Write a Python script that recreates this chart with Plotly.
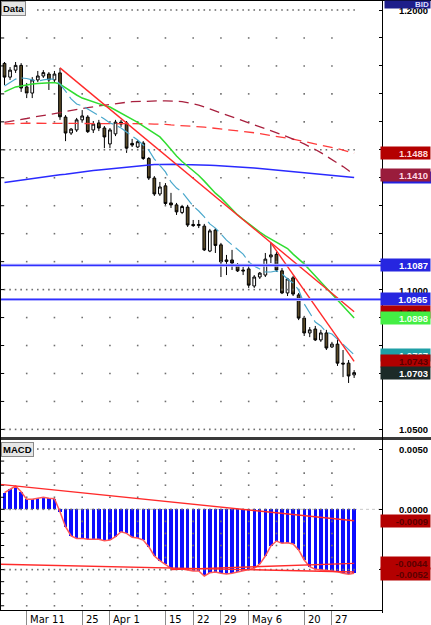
import plotly.graph_objects as go
import pandas as pd

# ---------------- data ----------------
dates = [d.strftime("%Y-%m-%d") for d in pd.bdate_range("2013-03-05", "2013-05-31")]
label_dates = ["2013-03-11", "2013-03-25", "2013-04-01", "2013-04-15", "2013-04-22",
               "2013-04-29", "2013-05-06", "2013-05-20", "2013-05-27"]
label_text = ["Mar 11", "25", "Apr 1", "15", "22", "29", "May 6", "20", "27"]

opens = [1.1809, 1.1760, 1.1785, 1.1802, 1.1725, 1.1703, 1.1750, 1.1764, 1.1771, 1.1750,
         1.1775, 1.1617, 1.1560, 1.1571, 1.1607, 1.1617, 1.1571, 1.1596, 1.1578, 1.1521,
         1.1557, 1.1599, 1.1596, 1.1523, 1.1510, 1.1524, 1.1469, 1.1399, 1.1342, 1.1371,
         1.1310, 1.1303, 1.1276, 1.1295, 1.1233, 1.1229, 1.1227, 1.1138, 1.1213, 1.1160,
         1.1106, 1.1106, 1.1088, 1.1070, 1.1074, 1.1013, 1.1045, 1.1052, 1.1117, 1.1126,
         1.1067, 1.0988, 1.1042, 1.0981, 1.0898, 1.0845, 1.0859, 1.0820, 1.0845, 1.0795,
         1.0805, 1.0737, 1.0737, 1.0695]
highs = [1.1814, 1.1796, 1.1814, 1.1810, 1.1739, 1.1760, 1.1782, 1.1785, 1.1778, 1.1782,
         1.1793, 1.1624, 1.1578, 1.1614, 1.1642, 1.1624, 1.1603, 1.1607, 1.1585, 1.1578,
         1.1607, 1.1607, 1.1603, 1.1539, 1.1535, 1.1531, 1.1474, 1.1406, 1.1385, 1.1381,
         1.1346, 1.1310, 1.1303, 1.1303, 1.1249, 1.1249, 1.1235, 1.1217, 1.1220, 1.1167,
         1.1124, 1.1142, 1.1095, 1.1081, 1.1084, 1.1052, 1.1063, 1.1131, 1.1167, 1.1134,
         1.1077, 1.1042, 1.1049, 1.0988, 1.0906, 1.0866, 1.0870, 1.0856, 1.0856, 1.0813,
         1.0830, 1.0784, 1.0748, 1.0712]
lows = [1.1732, 1.1750, 1.1775, 1.1707, 1.1685, 1.1685, 1.1742, 1.1757, 1.1714, 1.1739,
        1.1607, 1.1531, 1.1553, 1.1564, 1.1599, 1.1560, 1.1560, 1.1567, 1.1506, 1.1506,
        1.1549, 1.1582, 1.1489, 1.1510, 1.1506, 1.1464, 1.1392, 1.1335, 1.1335, 1.1299,
        1.1292, 1.1267, 1.1270, 1.1224, 1.1224, 1.1220, 1.1138, 1.1134, 1.1131, 1.1045,
        1.1052, 1.1070, 1.1063, 1.1052, 1.1006, 1.1006, 1.1038, 1.1045, 1.1095, 1.1063,
        1.0984, 1.0977, 1.0977, 1.0891, 1.0834, 1.0830, 1.0816, 1.0813, 1.0784, 1.0791,
        1.0727, 1.0687, 1.0666, 1.0684]
closes = [1.1760, 1.1785, 1.1802, 1.1721, 1.1703, 1.1750, 1.1764, 1.1776, 1.1750, 1.1771,
          1.1618, 1.1560, 1.1574, 1.1607, 1.1621, 1.1565, 1.1592, 1.1578, 1.1546, 1.1571,
          1.1599, 1.1592, 1.1506, 1.1517, 1.1529, 1.1469, 1.1399, 1.1342, 1.1367, 1.1308,
          1.1303, 1.1278, 1.1297, 1.1231, 1.1229, 1.1233, 1.1142, 1.1210, 1.1158, 1.1099,
          1.1101, 1.1095, 1.1067, 1.1067, 1.1016, 1.1045, 1.1059, 1.1109, 1.1124, 1.1070,
          1.0988, 1.1038, 1.0984, 1.0898, 1.0845, 1.0856, 1.0820, 1.0845, 1.0791, 1.0805,
          1.0737, 1.0734, 1.0691, 1.0703]

ma_green = [1.1707, 1.1716, 1.1725, 1.1728, 1.1732, 1.1735, 1.1737, 1.1739, 1.1741, 1.1741,
            1.1735, 1.1721, 1.1707, 1.1696, 1.1685, 1.1678, 1.1671, 1.1664, 1.1658, 1.1653,
            1.1642, 1.1632, 1.1619, 1.1607, 1.1598, 1.1585, 1.1571, 1.1557, 1.1546, 1.1524,
            1.1499, 1.1478, 1.1458, 1.1442, 1.1426, 1.1408, 1.1388, 1.1367, 1.1345, 1.1328,
            1.1308, 1.1288, 1.1267, 1.1251, 1.1235, 1.1220, 1.1206, 1.1192, 1.1181, 1.1170,
            1.1160, 1.1147, 1.1127, 1.1109, 1.1092, 1.1070, 1.1049, 1.1027, 1.1006, 1.0984,
            1.0963, 1.0941, 1.0920, 1.0898]
ma_blue = [1.1383, 1.1386, 1.1388, 1.1391, 1.1393, 1.1396, 1.1399, 1.1402, 1.1405, 1.1408,
           1.1411, 1.1413, 1.1416, 1.1418, 1.1421, 1.1424, 1.1426, 1.1428, 1.1430, 1.1433,
           1.1435, 1.1437, 1.1439, 1.1441, 1.1443, 1.1445, 1.1446, 1.1447, 1.1447, 1.1448,
           1.1448, 1.1448, 1.1447, 1.1447, 1.1447, 1.1446, 1.1445, 1.1445, 1.1444, 1.1443,
           1.1442, 1.1441, 1.1439, 1.1438, 1.1436, 1.1435, 1.1433, 1.1431, 1.1430, 1.1428,
           1.1426, 1.1424, 1.1422, 1.1421, 1.1419, 1.1417, 1.1415, 1.1412, 1.1410, 1.1408,
           1.1406, 1.1404, 1.1402, 1.1401]
ma_red_dash = [1.1593, 1.1594, 1.1594, 1.1594, 1.1595, 1.1595, 1.1595, 1.1595, 1.1595, 1.1595,
               1.1595, 1.1595, 1.1595, 1.1595, 1.1595, 1.1595, 1.1595, 1.1595, 1.1595, 1.1595,
               1.1595, 1.1595, 1.1594, 1.1594, 1.1594, 1.1593, 1.1593, 1.1592, 1.1592, 1.1591,
               1.1589, 1.1588, 1.1587, 1.1586, 1.1584, 1.1583, 1.1581, 1.1579, 1.1577, 1.1575,
               1.1573, 1.1571, 1.1568, 1.1566, 1.1564, 1.1561, 1.1558, 1.1555, 1.1552, 1.1549,
               1.1545, 1.1542, 1.1538, 1.1534, 1.1530, 1.1526, 1.1521, 1.1517, 1.1513, 1.1509,
               1.1504, 1.1499, 1.1494, 1.1488]
ma_maroon_dash = [1.1598, 1.1601, 1.1605, 1.1608, 1.1612, 1.1616, 1.1619, 1.1623, 1.1626, 1.1630,
                  1.1633, 1.1637, 1.1641, 1.1644, 1.1648, 1.1651, 1.1654, 1.1657, 1.1660, 1.1663,
                  1.1666, 1.1668, 1.1670, 1.1672, 1.1673, 1.1674, 1.1675, 1.1675, 1.1675, 1.1675,
                  1.1675, 1.1674, 1.1672, 1.1669, 1.1665, 1.1660, 1.1653, 1.1647, 1.1639, 1.1632,
                  1.1625, 1.1618, 1.1612, 1.1605, 1.1598, 1.1591, 1.1584, 1.1577, 1.1570, 1.1562,
                  1.1554, 1.1546, 1.1539, 1.1530, 1.1521, 1.1512, 1.1501, 1.1490, 1.1478, 1.1465,
                  1.1453, 1.1440, 1.1426, 1.1410]
ma_cyan = [1.1728, 1.1742, 1.1753, 1.1757, 1.1755, 1.1750, 1.1746, 1.1750, 1.1753, 1.1753,
           1.1735, 1.1710, 1.1682, 1.1664, 1.1657, 1.1646, 1.1635, 1.1621, 1.1610, 1.1596,
           1.1589, 1.1578, 1.1564, 1.1549, 1.1535, 1.1517, 1.1499, 1.1467, 1.1442, 1.1421,
           1.1385, 1.1363, 1.1349, 1.1324, 1.1299, 1.1281, 1.1260, 1.1235, 1.1220, 1.1199,
           1.1177, 1.1160, 1.1142, 1.1127, 1.1099, 1.1084, 1.1074, 1.1063, 1.1063, 1.1067,
           1.1056, 1.1038, 1.1024, 1.0999, 1.0949, 1.0916, 1.0884, 1.0870, 1.0848, 1.0841,
           1.0823, 1.0802, 1.0784, 1.0767]

trend1_idx = [10, 63]
trend1_val = [1.1793, 1.0921]
trend2_idx = [48, 63]
trend2_val = [1.1167, 1.0743]
hline_levels = [1.1087, 1.0965]

macd = [0.00138, 0.00166, 0.00193, 0.00146, 0.00083, 0.00083, 0.00094, 0.00100, 0.00091, 0.00088,
        -0.00020, -0.00144, -0.00221, -0.00241, -0.00241, -0.00249, -0.00249, -0.00249, -0.00260, -0.00255,
        -0.00227, -0.00186, -0.00199, -0.00232, -0.00238, -0.00255, -0.00310, -0.00387, -0.00426, -0.00454,
        -0.00489, -0.00498, -0.00495, -0.00503, -0.00512, -0.00512, -0.00553, -0.00526, -0.00520, -0.00531,
        -0.00536, -0.00531, -0.00520, -0.00512, -0.00503, -0.00489, -0.00454, -0.00387, -0.00304, -0.00263,
        -0.00282, -0.00277, -0.00288, -0.00337, -0.00420, -0.00476, -0.00498, -0.00503, -0.00509, -0.00512,
        -0.00517, -0.00531, -0.00539, -0.00530]
macd_up_idx = [0, 63]
macd_up_val = [0.00203, -0.00095]
macd_lowa_idx = [0, 63]
macd_lowa_val = [-0.00456, -0.00520]
macd_lowb_idx = [30, 63]
macd_lowb_val = [-0.00500, -0.00448]

price_labels = [  # text, value, background, text colour
    ("1.1488", 1.1488, "#b40000", "#ffd8d8"),
    (None, 1.1401, "#2222e0", "#ffffff"),
    ("1.1410", 1.1410, "#9a1c3c", "#ffd8e4"),
    ("1.1087", 1.1087, "#2626e0", "#ffffff"),
    ("1.0965", 1.0965, "#2626e0", "#ffffff"),
    ("1.0921", 1.0921, "#b00000", "#5a0000"),
    ("1.0898", 1.0898, "#44ee44", "#f0fff0"),
    ("1.0767", 1.0767, "#1f9fa6", "#e8ffff"),
    ("1.0743", 1.0743, "#b00000", "#5a0000"),
    ("1.0703", 1.0703, "#1c2a28", "#ffffff"),
]
price_ticks = [1.2000, 1.1500, 1.1000, 1.0500]
macd_ticks = [0.0050, 0.0000]
macd_labels = [
    ("-0.0009", -0.00095, "#b40000", "#5a0000"),
    ("-0.0044", -0.00448, "#b40000", "#5a0000"),
    ("-0.0052", -0.00520, "#b40000", "#5a0000"),
]

# ---------------- geometry ----------------
W, H = 431, 625
ML, MR, MT, MB = 0, 49, 0, 15
PW, PH = W - ML - MR, H - MT - MB
price_dom = [1 - 437 / PH, 1]
macd_dom = [0, 1 - 440 / PH]
price_range = [1.04728, 1.20358]
macd_range = [-0.00835, 0.00575]
x_range = [-0.81, 68.02]
RIGHT = W / PW
PX_PER_PRICE = (price_dom[1] - price_dom[0]) * PH / (price_range[1] - price_range[0])

n = len(dates)
xs = list(range(n))
week_idx = [i for i, d in enumerate(dates) if pd.Timestamp(d).weekday() == 0]
lab_idx = [dates.index(d) for d in label_dates]

fig = go.Figure()

# ---------------- grid dots ----------------
price_lv = [round(1.05 + 0.01 * k, 2) for k in range(16)]
gx, gy = [], []
for lv in price_lv:
    if abs(round(lv * 20) - lv * 20) < 1e-6:
        start = 6 if lv >= 1.2 else 0
        for i in range(start, n):
            gx.append(i); gy.append(lv)
    else:
        for i in week_idx:
            gx.append(i); gy.append(lv)
fig.add_trace(go.Scatter(x=gx, y=gy, mode="markers", xaxis="x", yaxis="y",
                         marker=dict(symbol="square", size=1.6, color="#707070"),
                         hoverinfo="skip"))
macd_lv = [round(0.005 - 0.001 * k, 3) for k in range(14)]
mx, my = [], []
for lv in macd_lv:
    if lv in (0.005, 0.0, -0.005):
        start = 6 if lv > 0.004 else 0
        for i in range(start, n):
            mx.append(i); my.append(lv)
    else:
        for i in week_idx:
            mx.append(i); my.append(lv)
fig.add_trace(go.Scatter(x=mx, y=my, mode="markers", xaxis="x2", yaxis="y2",
                         marker=dict(symbol="square", size=1.6, color="#707070"),
                         hoverinfo="skip"))
# left edge ticks
fig.add_trace(go.Scatter(x=[x_range[0]] * len(price_lv), y=price_lv, mode="markers",
                         xaxis="x", yaxis="y",
                         marker=dict(symbol="line-ew", size=6, line=dict(width=1, color="#000"))))
fig.add_trace(go.Scatter(x=[x_range[0]] * len(macd_lv), y=macd_lv, mode="markers",
                         xaxis="x2", yaxis="y2",
                         marker=dict(symbol="line-ew", size=6, line=dict(width=1, color="#000"))))

# ---------------- candles ----------------
fig.add_trace(go.Candlestick(
    x=xs, open=opens, high=highs, low=lows, close=closes, xaxis="x", yaxis="y",
    increasing=dict(fillcolor="#ffffff", line=dict(color="#000000", width=1)),
    decreasing=dict(fillcolor="#5a4a26", line=dict(color="#000000", width=1)),
    whiskerwidth=0, hoverinfo="skip"))

# ---------------- moving averages ----------------
def line(y, color, width=1.5, dash="solid", x=None, xa="x", ya="y"):
    fig.add_trace(go.Scatter(x=xs if x is None else x, y=y, mode="lines", xaxis=xa, yaxis=ya,
                             line=dict(color=color, width=width, dash=dash),
                             hoverinfo="skip"))

line(ma_blue, "#2a2aff", 1.5)
line(ma_red_dash, "#ff3a3a", 1.3, "10px,6px")
line(ma_maroon_dash, "#a8203e", 1.3, "10px,6px")
line(ma_green, "#30dd30", 1.5)
line(ma_cyan, "#4aa8cc", 1.2, "14px,5px")


def extend(idx, val, x_to):
    slope = (val[1] - val[0]) / (idx[1] - idx[0])
    return [x_to, idx[1]], [val[0] + slope * (x_to - idx[0]), val[1]]


line(trend1_val, "#ff2a2a", 1.4, x=trend1_idx)
line(trend2_val, "#ff2a2a", 1.4, x=trend2_idx)

for lv in hline_levels:
    line([lv, lv], "#b0b0ff", 3, x=x_range)
    line([lv, lv], "#3030ff", 1.3, x=x_range)

# ---------------- MACD ----------------
fig.add_trace(go.Bar(x=xs, y=macd, xaxis="x2", yaxis="y2", width=0.6,
                     marker=dict(color="#0c0cff", line=dict(width=0)), hoverinfo="skip"))
line(macd, "#ff5858", 1.5, xa="x2", ya="y2")
ux, uy = extend(macd_up_idx, macd_up_val, x_range[0])
line(uy, "#ff2a2a", 1.4, x=ux, xa="x2", ya="y2")
ax_, ay_ = extend(macd_lowa_idx, macd_lowa_val, x_range[0])
line(ay_, "#ff2a2a", 1.4, x=ax_, xa="x2", ya="y2")
line(macd_lowb_val, "#ff2a2a", 1.4, x=macd_lowb_idx, xa="x2", ya="y2")

# ---------------- annotations ----------------
ann = []
shapes = []
LBL_FONT = "Liberation Sans, Arial, sans-serif"


def rlabel(text, y, yref, bg=None, fg="#000000", yshift=0):
    d = dict(text="<b>%s</b>" % text, xref="paper", x=RIGHT, xanchor="right",
             yref=yref, y=y, yanchor="middle", showarrow=False, yshift=yshift,
             width=45, height=8, borderpad=2, align="right",
             font=dict(family=LBL_FONT, size=9.5, color=fg))
    if bg:
        d["bgcolor"] = bg
    ann.append(d)


rlabel("1.2000", 1.2, "y")
ann.append(dict(text="<b>BID</b>", xref="paper", x=RIGHT, xanchor="right", yref="paper", y=1,
                yanchor="top", showarrow=False, width=43, height=5, borderpad=1, align="right",
                bgcolor="#1e1e8a", font=dict(family=LBL_FONT, size=8, color="#dcdcff")))
for t in price_ticks[1:]:
    rlabel("%.4f" % t, t, "y")
for text, v, bg, fg in price_labels:
    if text is None:
        half = 6 / PX_PER_PRICE
        shapes.append(dict(type="rect", xref="paper", yref="y", x0=1 + 1 / PW, x1=RIGHT,
                           y0=v - half, y1=v + half, fillcolor=bg, line=dict(width=0),
                           layer="above"))
    else:
        rlabel(text, v, "y", bg, fg)
for t in macd_ticks:
    rlabel("%.4f" % t, t, "y2")
for k, (text, v, bg, fg) in enumerate(macd_labels):
    rlabel(text, v, "y2", bg, fg, yshift=-2 if k == 2 else 0)

# panel titles
for text, ytop in (("Data", 1 - 1 / PH), ("MACD", macd_dom[1] - 1.5 / PH)):
    ann.append(dict(text="<b>%s</b>" % text, xref="paper", x=1 / PW, xanchor="left",
                    yref="paper", y=ytop, yanchor="top", showarrow=False, borderpad=1,
                    bgcolor="#e6e6e6", bordercolor="#8a8a8a", borderwidth=1,
                    font=dict(family=LBL_FONT, size=9.5, color="#000000")))

# x labels
for i, t in zip(lab_idx, label_text):
    ann.append(dict(text=t, xref="x2", x=i, xanchor="left", xshift=1.5,
                    yref="paper", y=-9 / PH, yanchor="middle",
                    showarrow=False, font=dict(family="DejaVu Sans", size=10, color="#000000")))

# ---------------- frame shapes ----------------
shapes += [
    dict(type="rect", xref="paper", yref="paper", x0=0, x1=RIGHT, y0=macd_dom[1], y1=price_dom[0],
         fillcolor="#3a3a3a", line=dict(width=0), layer="above"),
    dict(type="line", xref="paper", yref="paper", x0=0.5 / PW, x1=0.5 / PW, y0=0, y1=1,
         line=dict(color="#000000", width=1), layer="above"),
    dict(type="line", xref="paper", yref="paper", x0=0, x1=RIGHT, y0=1 - 0.5 / PH, y1=1 - 0.5 / PH,
         line=dict(color="#000000", width=1), layer="above"),
    dict(type="line", xref="paper", yref="paper", x0=1 + 0.5 / PW, x1=1 + 0.5 / PW, y0=-3 / PH, y1=1,
         line=dict(color="#000000", width=1), layer="above"),
    dict(type="line", xref="paper", yref="paper", x0=0, x1=1, y0=-0.5 / PH, y1=-0.5 / PH,
         line=dict(color="#000000", width=1), layer="above"),
    dict(type="line", xref="paper", yref="y2", x0=0, x1=1, y0=0, y1=0,
         line=dict(color="#c8c8c8", width=1, dash="dot"), layer="below"),
]

fig.update_layout(
    width=W, height=H, margin=dict(l=ML, r=MR, t=MT, b=MB),
    paper_bgcolor="#ffffff", plot_bgcolor="#ffffff", showlegend=False,
    bargap=0, annotations=ann, shapes=shapes,
    xaxis=dict(domain=[0, 1], range=x_range, anchor="y", showgrid=False, zeroline=False,
               showticklabels=False, ticks="", rangeslider=dict(visible=False), fixedrange=True),
    xaxis2=dict(domain=[0, 1], range=x_range, anchor="y2", matches="x", showgrid=False,
                zeroline=False, showticklabels=False, ticks="outside", ticklen=14,
                tickcolor="#8a8a8a", tickwidth=1, tickvals=lab_idx),
    yaxis=dict(domain=price_dom, range=price_range, side="right", anchor="x", showgrid=False,
               zeroline=False, showticklabels=False, ticks="inside", ticklen=3,
               tickcolor="#000000", tickvals=price_lv),
    yaxis2=dict(domain=macd_dom, range=macd_range, side="right", anchor="x2", showgrid=False,
                zeroline=False, showticklabels=False, ticks="inside", ticklen=3,
                tickcolor="#000000", tickvals=[0.005, 0.0, -0.005]),
)

fig.write_html("out.html")
